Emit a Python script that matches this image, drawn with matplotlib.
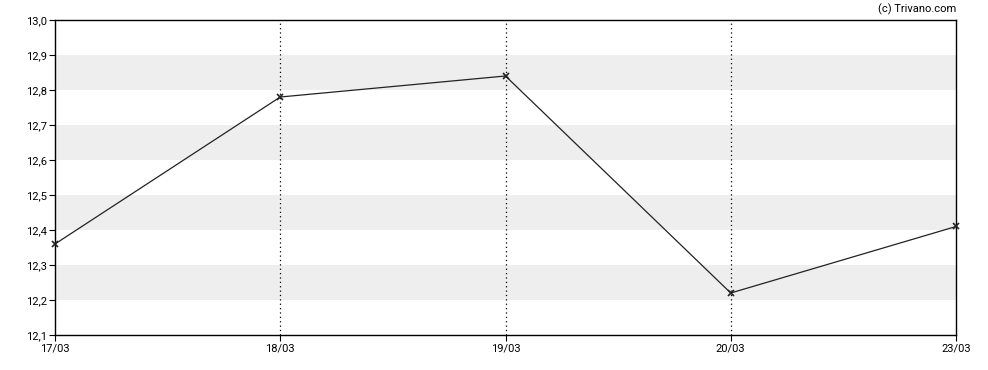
import matplotlib.pyplot as plt
import numpy as np

plt.rcParams['font.family'] = ['Roboto', 'DejaVu Sans']

dates = ['17/03', '18/03', '19/03', '20/03', '23/03']
prices = [12.36, 12.78, 12.84, 12.22, 12.41]
yticks = [12.1, 12.2, 12.3, 12.4, 12.5, 12.6, 12.7, 12.8, 12.9, 13.0]
bands = [(12.2, 12.3), (12.4, 12.5), (12.6, 12.7), (12.8, 12.9)]

fig = plt.figure(figsize=(9.88, 3.7), dpi=100)
ax = fig.add_axes([55/988, 1 - 335/370, (956-55)/988, (335-20)/370])

x = np.arange(len(dates))
for lo, hi in bands:
    ax.axhspan(lo, hi, color='#eeeeee', lw=0, zorder=0)
for xi in x[1:-1]:
    ax.axvline(xi, color='black', lw=0.9, ls=(0, (1, 2.5)), zorder=1)

ax.plot(x, prices, color='#222222', lw=0.9, marker='x', ms=4, mew=1.2,
        zorder=3, clip_on=False)

ax.set_xlim(0, len(dates) - 1)
ax.set_ylim(12.1, 13.0)
ax.set_xticks(x)
ax.set_xticklabels(dates)
ax.set_yticks(yticks)
ax.set_yticklabels([f'{v:.1f}'.replace('.', ',') for v in yticks])
ax.tick_params(labelsize=8, length=4, width=0.8, colors='black', pad=2)
for s in ax.spines.values():
    s.set_linewidth(1)

fig.text(956/988, 1 - 9/370, '(c) Trivano.com', ha='right', va='center', fontsize=8)

fig.savefig('out.png', dpi=100)
